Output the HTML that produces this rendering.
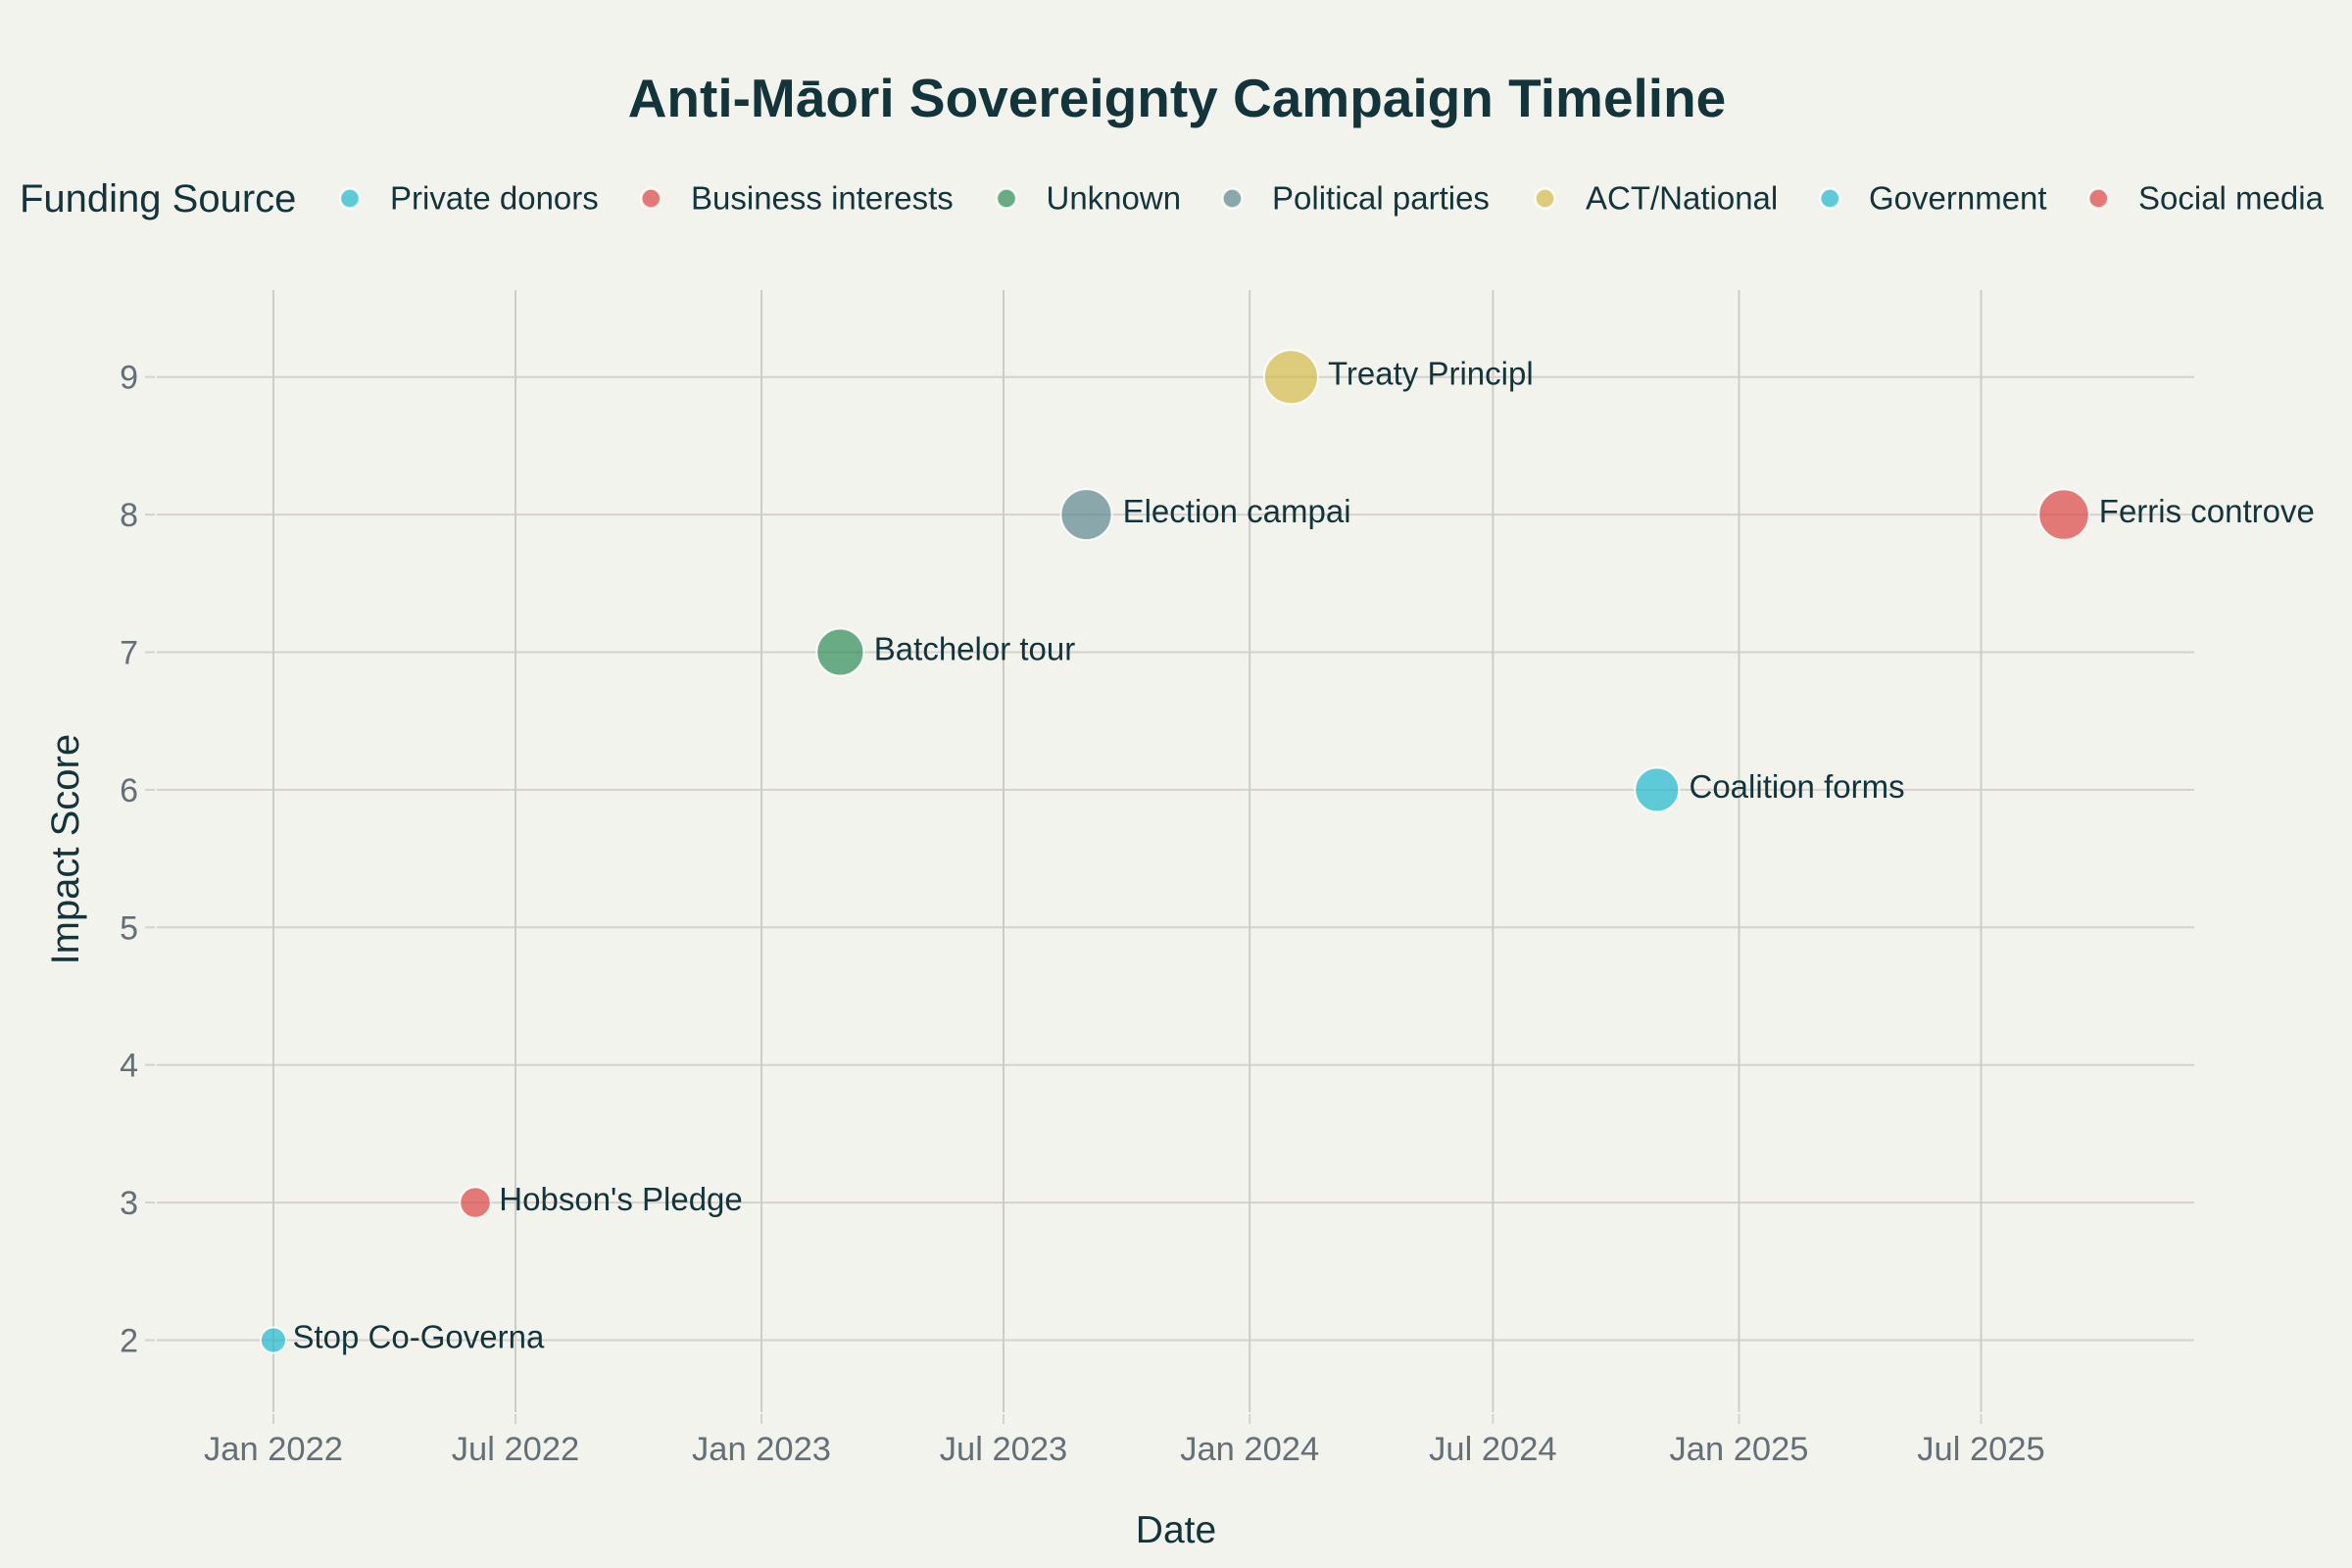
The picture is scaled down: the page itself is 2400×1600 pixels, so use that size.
<!DOCTYPE html>
<html>
<head>
<meta charset="utf-8">
<style>
  html, body { margin: 0; padding: 0; background: #F3F3EE; }
  body { width: 2400px; height: 1600px; overflow: hidden; }
  svg { display: block; }
  text { font-family: "Liberation Sans", "DejaVu Sans", sans-serif; }
</style>
</head>
<body>
<svg width="2400" height="1600" viewBox="0 0 2400 1600" xmlns="http://www.w3.org/2000/svg">
  <rect x="0" y="0" width="2400" height="1600" fill="#F3F3EE"/>

  <!-- Title -->
  <text x="1201" y="119" text-anchor="middle" font-size="55" font-weight="bold" fill="#13343B">Anti-Māori Sovereignty Campaign Timeline</text>

  <!-- Legend -->
  <text x="20" y="216" font-size="40" fill="#13343B">Funding Source</text>
  <g stroke="#ffffff" stroke-width="2.5" stroke-opacity="0.8">
    <circle cx="357" cy="202.5" r="10" fill="#1FB8CD" fill-opacity="0.7"/>
    <circle cx="664.3" cy="202.5" r="10" fill="#DB4545" fill-opacity="0.7"/>
    <circle cx="1027" cy="202.5" r="10" fill="#2E8B57" fill-opacity="0.7"/>
    <circle cx="1257.4" cy="202.5" r="10" fill="#5D878F" fill-opacity="0.7"/>
    <circle cx="1576.5" cy="202.5" r="10" fill="#D2BA4C" fill-opacity="0.7"/>
    <circle cx="1867.3" cy="202.5" r="10" fill="#1FB8CD" fill-opacity="0.7"/>
    <circle cx="2141.3" cy="202.5" r="10" fill="#DB4545" fill-opacity="0.7"/>
  </g>
  <g font-size="33" fill="#13343B">
    <text x="398" y="213.5">Private donors</text>
    <text x="705" y="213.5">Business interests</text>
    <text x="1067.5" y="213.5">Unknown</text>
    <text x="1298" y="213.5">Political parties</text>
    <text x="1618" y="213.5">ACT/National</text>
    <text x="1907" y="213.5">Government</text>
    <text x="2182" y="213.5">Social media</text>
  </g>

  <!-- Horizontal gridlines -->
  <g stroke="#d6d1cc" stroke-width="2">
    <line x1="160" x2="2239" y1="384.7" y2="384.7"/>
    <line x1="160" x2="2239" y1="525.1" y2="525.1"/>
    <line x1="160" x2="2239" y1="665.5" y2="665.5"/>
    <line x1="160" x2="2239" y1="805.9" y2="805.9"/>
    <line x1="160" x2="2239" y1="946.3" y2="946.3"/>
    <line x1="160" x2="2239" y1="1086.7" y2="1086.7"/>
    <line x1="160" x2="2239" y1="1227.1" y2="1227.1"/>
    <line x1="160" x2="2239" y1="1367.5" y2="1367.5"/>
    <!-- y ticks -->
    <line x1="148" x2="158" y1="384.7" y2="384.7"/>
    <line x1="148" x2="158" y1="525.1" y2="525.1"/>
    <line x1="148" x2="158" y1="665.5" y2="665.5"/>
    <line x1="148" x2="158" y1="805.9" y2="805.9"/>
    <line x1="148" x2="158" y1="946.3" y2="946.3"/>
    <line x1="148" x2="158" y1="1086.7" y2="1086.7"/>
    <line x1="148" x2="158" y1="1227.1" y2="1227.1"/>
    <line x1="148" x2="158" y1="1367.5" y2="1367.5"/>
  </g>

  <!-- Vertical gridlines -->
  <g stroke="#ccccc8" stroke-width="2">
    <line x1="279" x2="279" y1="296" y2="1441"/>
    <line x1="526" x2="526" y1="296" y2="1441"/>
    <line x1="777" x2="777" y1="296" y2="1441"/>
    <line x1="1024" x2="1024" y1="296" y2="1441"/>
    <line x1="1275.2" x2="1275.2" y1="296" y2="1441"/>
    <line x1="1523.4" x2="1523.4" y1="296" y2="1441"/>
    <line x1="1774.5" x2="1774.5" y1="296" y2="1441"/>
    <line x1="2021.5" x2="2021.5" y1="296" y2="1441"/>
  </g>
  <g stroke="#d6d1cc" stroke-width="2">
    <!-- x ticks -->
    <line x1="279" x2="279" y1="1443" y2="1453"/>
    <line x1="526" x2="526" y1="1443" y2="1453"/>
    <line x1="777" x2="777" y1="1443" y2="1453"/>
    <line x1="1024" x2="1024" y1="1443" y2="1453"/>
    <line x1="1275.2" x2="1275.2" y1="1443" y2="1453"/>
    <line x1="1523.4" x2="1523.4" y1="1443" y2="1453"/>
    <line x1="1774.5" x2="1774.5" y1="1443" y2="1453"/>
    <line x1="2021.5" x2="2021.5" y1="1443" y2="1453"/>
  </g>

  <!-- Y tick labels -->
  <g font-size="34" fill="#646f77" text-anchor="end">
    <text x="141" y="396.7">9</text>
    <text x="141" y="537.1">8</text>
    <text x="141" y="677.5">7</text>
    <text x="141" y="817.9">6</text>
    <text x="141" y="958.3">5</text>
    <text x="141" y="1098.7">4</text>
    <text x="141" y="1239.1">3</text>
    <text x="141" y="1379.5">2</text>
  </g>

  <!-- X tick labels -->
  <g font-size="34.5" fill="#646f77" text-anchor="middle">
    <text x="279" y="1490">Jan 2022</text>
    <text x="526" y="1490">Jul 2022</text>
    <text x="777" y="1490">Jan 2023</text>
    <text x="1024" y="1490">Jul 2023</text>
    <text x="1275.2" y="1490">Jan 2024</text>
    <text x="1523.4" y="1490">Jul 2024</text>
    <text x="1774.5" y="1490">Jan 2025</text>
    <text x="2021.5" y="1490">Jul 2025</text>
  </g>

  <!-- Axis titles -->
  <text x="1200" y="1574" text-anchor="middle" font-size="39" fill="#13343B">Date</text>
  <text transform="translate(80,866.7) rotate(-90)" text-anchor="middle" font-size="40" fill="#13343B">Impact Score</text>

  <!-- Markers -->
  <g stroke="#ffffff" stroke-width="2" stroke-opacity="0.85">
    <circle cx="279" cy="1367.5" r="13" fill="#1FB8CD" fill-opacity="0.7"/>
    <circle cx="485" cy="1227.1" r="15.7" fill="#DB4545" fill-opacity="0.7"/>
    <circle cx="857.4" cy="665.5" r="24" fill="#2E8B57" fill-opacity="0.7"/>
    <circle cx="1108.5" cy="525.1" r="26" fill="#5D878F" fill-opacity="0.7"/>
    <circle cx="1317.4" cy="384.7" r="27.5" fill="#D2BA4C" fill-opacity="0.7"/>
    <circle cx="1690.8" cy="805.9" r="22.5" fill="#1FB8CD" fill-opacity="0.7"/>
    <circle cx="2106" cy="525.1" r="25.7" fill="#DB4545" fill-opacity="0.7"/>
  </g>

  <!-- Data labels -->
  <g font-size="33" fill="#13343B">
    <text x="298.5" y="1375.5">Stop Co-Governa</text>
    <text x="509.3" y="1235.1">Hobson's Pledge</text>
    <text x="891.8" y="673.5">Batchelor tour</text>
    <text x="1145.6" y="533.1">Election campai</text>
    <text x="1355" y="392.7">Treaty Principl</text>
    <text x="1723.5" y="813.9">Coalition forms</text>
    <text x="2141.8" y="533.1">Ferris controve</text>
  </g>
</svg>
</body>
</html>
